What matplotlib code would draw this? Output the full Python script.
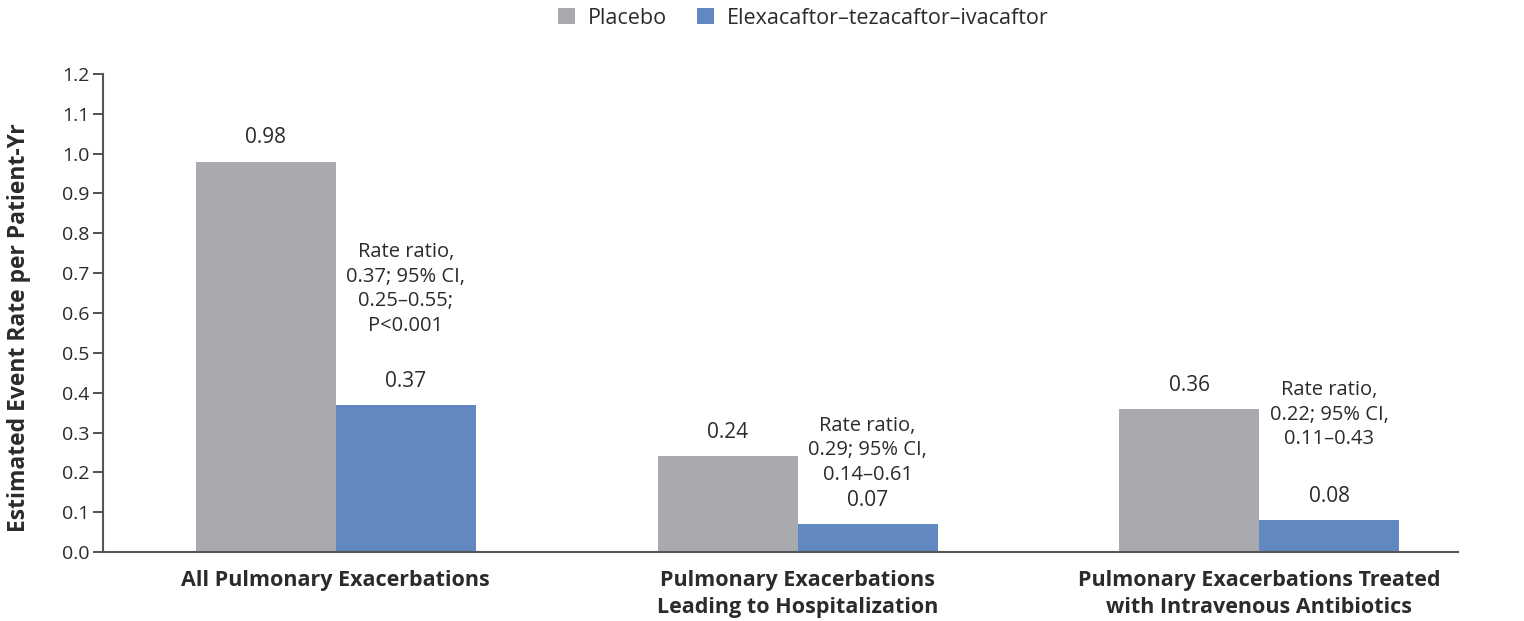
import numpy as np
import matplotlib.pyplot as plt

plt.rcParams['font.family'] = ['Open Sans', 'DejaVu Sans']

# data
categories = ["All Pulmonary Exacerbations",
              "Pulmonary Exacerbations\nLeading to Hospitalization",
              "Pulmonary Exacerbations Treated\nwith Intravenous Antibiotics"]
placebo = [0.98, 0.24, 0.36]
eti = [0.37, 0.07, 0.08]
ratio_text = ["Rate ratio,\n0.37; 95% CI,\n0.25\u20130.55;\nP<0.001",
              "Rate ratio,\n0.29; 95% CI,\n0.14\u20130.61",
              "Rate ratio,\n0.22; 95% CI,\n0.11\u20130.43"]
ratio_y = [0.66, 0.256, 0.344]
yticks = np.arange(0, 1.21, 0.1)

c_placebo = '#a9aaad'
c_eti = '#6288c2'
txt = '#2b2b2b'

fig = plt.figure(figsize=(15.24, 6.21), dpi=100)
ax = fig.add_axes([0.0676, 0.111, 0.8891, 0.770])

x = np.arange(len(categories))
w = 0.303
b1 = ax.bar(x - w / 2, placebo, w, color=c_placebo, label='Placebo')
b2 = ax.bar(x + w / 2, eti, w, color=c_eti, label='Elexacaftor\u2013tezacaftor\u2013ivacaftor')

for bars, vals in [(b1, placebo), (b2, eti)]:
    for r, v in zip(bars, vals):
        ax.annotate(f"{v:.2f}", (r.get_x() + r.get_width() / 2, v), xytext=(0, 17),
                    textcoords='offset points', ha='center', va='center',
                    fontsize=15, color=txt)

for i, t in enumerate(ratio_text):
    ax.text(x[i] + w / 2, ratio_y[i], t, ha='center', va='center',
            fontsize=14.5, color=txt, linespacing=1.3)

ax.set_xlim(-0.504, 2.43)
ax.set_ylim(0, 1.2)
ax.set_yticks(yticks)
ax.set_yticklabels([f"{v:.1f}" for v in yticks], fontsize=14, color=txt)
ax.set_xticks(x)
ax.set_xticklabels(categories, fontsize=15.5, fontweight='bold', color=txt, linespacing=1.35)
ax.tick_params(axis='x', length=0, pad=13)
ax.tick_params(axis='y', length=7, width=1.3, color='#444444', pad=3)
ax.set_ylabel("Estimated Event Rate per Patient-Yr", fontsize=16.5, fontweight='bold',
              color=txt)
ax.yaxis.set_label_coords(-0.053, 0.47)

for s in ['top', 'right']:
    ax.spines[s].set_visible(False)
for s in ['left', 'bottom']:
    ax.spines[s].set_color('#555555')
    ax.spines[s].set_linewidth(1.5)

fig.legend(loc='center', bbox_to_anchor=(0.527, 0.971), ncol=2, frameon=False,
           fontsize=15.5, handlelength=0.8, handleheight=0.8, handletextpad=0.6,
           columnspacing=1.4, labelcolor=txt)

fig.savefig('out.png', dpi=100)
